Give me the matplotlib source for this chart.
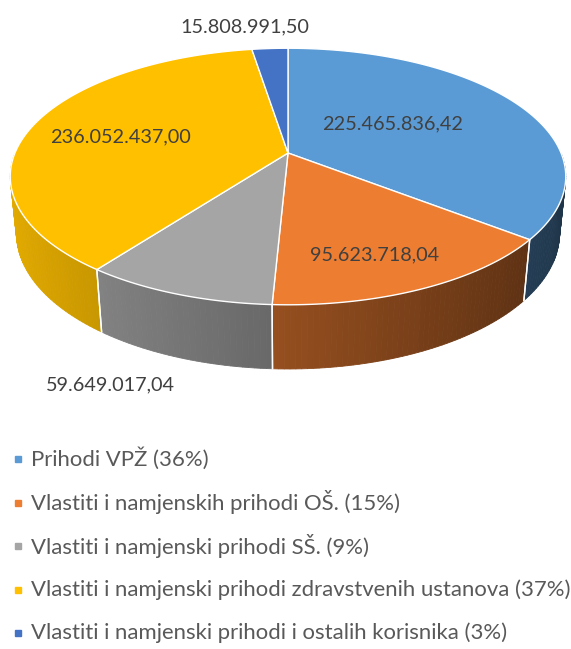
import numpy as np
import matplotlib
matplotlib.use('Agg')
import matplotlib.pyplot as plt
from matplotlib.patches import Polygon
from matplotlib.colors import to_rgb

# data
names = ['Prihodi VPŽ (36%)',
         'Vlastiti i namjenskih prihodi OŠ. (15%)',
         'Vlastiti i namjenski prihodi SŠ. (9%)',
         'Vlastiti i namjenski prihodi zdravstvenih ustanova (37%)',
         'Vlastiti i namjenski prihodi i ostalih korisnika (3%)']
values = [225465836.42, 95623718.04, 59649017.04, 236052437.00, 15808991.50]
colors = ['#5B9BD5', '#ED7D31', '#A5A5A5', '#FFC000', '#4472C4']

# layout (pixels)
label_xy = [(393, 124), (375, 255), (110, 385), (120, 137), (245, 27)]
CX, CY = 288, 153
ELEV = np.radians(27)
D, F = 4.86, 1327
THICK = 0.235


def proj(x, y, z=0.0):
    s, c = np.sin(ELEV), np.cos(ELEV)
    depth = D + y * c - z * s
    return CX + x * F / depth, CY - (y * s + z * c) * F / depth


def fmt(v):
    return f"{v:,.2f}".replace(',', 'X').replace('.', ',').replace('X', '.')


def shade(col, t):
    k = np.clip(0.62 - 0.28 * np.cos(t), 0, 1)
    return tuple(np.array(to_rgb(col)) * k)


fig = plt.figure(figsize=(5.71, 6.49), dpi=100)
ax = fig.add_axes([0, 0, 1, 1])
ax.set_xlim(0, 571)
ax.set_ylim(649, 0)
ax.axis('off')

total = sum(values)
fracs = np.array(values) / total
cum = np.concatenate([[0], np.cumsum(fracs)])
# math angles, start at 12 o'clock, clockwise
a0 = np.pi / 2 - 2 * np.pi * cum[:-1]
a1 = np.pi / 2 - 2 * np.pi * cum[1:]

# side walls (only the front half is visible)
for i in range(len(values)):
    lo, hi = a1[i], a0[i]
    segs = []
    for shift in (0, 2 * np.pi, -2 * np.pi):
        l2, h2 = max(lo + shift, -np.pi), min(hi + shift, 0)
        if h2 > l2:
            segs.append((l2, h2))
    for l2, h2 in segs:
        ts = np.linspace(l2, h2, max(3, int(np.degrees(h2 - l2))))
        for t0, t1 in zip(ts[:-1], ts[1:]):
            pts = [proj(np.cos(t0), np.sin(t0)), proj(np.cos(t1), np.sin(t1)),
                   proj(np.cos(t1), np.sin(t1), -THICK), proj(np.cos(t0), np.sin(t0), -THICK)]
            c = shade(colors[i], (t0 + t1) / 2)
            ax.add_patch(Polygon(pts, closed=True, facecolor=c, edgecolor=c, lw=0.6))
        for t in (l2, h2):
            if -np.pi < t < 0:
                p, q = proj(np.cos(t), np.sin(t)), proj(np.cos(t), np.sin(t), -THICK)
                ax.plot([p[0], q[0]], [p[1], q[1]], color='white', lw=1.0)

# top faces
for i in range(len(values)):
    ts = np.linspace(a0[i], a1[i], 200)
    pts = [proj(0, 0)] + [proj(np.cos(t), np.sin(t)) for t in ts]
    ax.add_patch(Polygon(pts, closed=True, facecolor=colors[i], edgecolor='white',
                         lw=1.0, joinstyle='round'))

# data labels
for i, v in enumerate(values):
    ax.text(label_xy[i][0], label_xy[i][1], fmt(v), ha='center', va='center',
            fontsize=14.3, color='#404040', family='Lato')

# legend
for i, n in enumerate(names):
    y = 459 + i * 43.5
    ax.plot(18, y, 's', ms=5, color=colors[i])
    ax.text(31, y, n, ha='left', va='center',
            fontsize=15.9, color='#595959', family='Lato')

fig.savefig('out.png', dpi=100)
